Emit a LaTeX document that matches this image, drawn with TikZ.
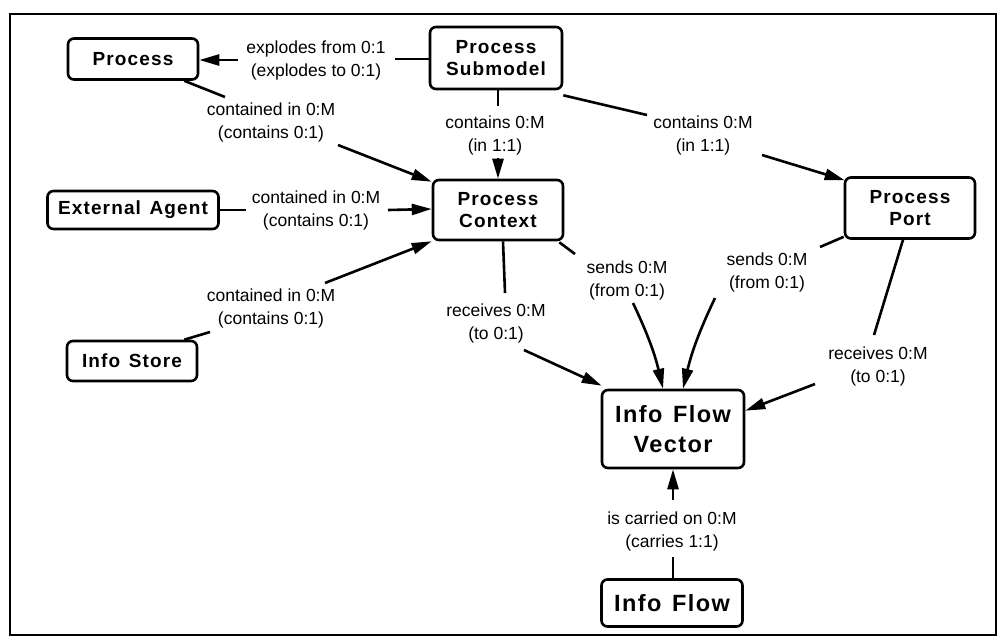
\documentclass[tikz,border=0pt]{standalone}
\usepackage{fontspec}
\setmainfont{Liberation Sans}
\newfontfamily\boxfont[LetterSpace=6]{Liberation Sans Bold}
\usetikzlibrary{arrows.meta}
\tikzset{
  entity/.style={draw, line width=2.6pt, rounded corners=6pt, align=center,
    inner sep=0pt, font=\boxfont\fontsize{19}{22}\selectfont},
  bigentity/.style={entity, font=\boxfont\fontsize{23.5}{30}\selectfont},
  rel/.style={align=center, inner sep=0pt, font=\fontsize{17.5}{23}\selectfont},
  link/.style={line width=2.6pt},
  arr/.style={link, -{Triangle[length=20pt,width=11pt]}},
}
\newcommand{\wsp}{\hspace{0.45em}}
\begin{document}
\begin{tikzpicture}[x=1pt,y=-1pt]
\useasboundingbox (0,0) rectangle (1001,638);
\fill[white] (0,0) rectangle (1001,638);
\draw[line width=2.6pt] (10,14) rectangle (996,635);

% entities
\node[entity, minimum width=130pt, minimum height=41pt] (proc) at (133,59) {Process};
\node[entity, minimum width=132pt, minimum height=62pt] (sub) at (496,58) {Process\\Submodel};
\node[entity, minimum width=171pt, minimum height=38pt] (ea) at (133,210) {External\wsp Agent};
\node[entity, minimum width=130pt, minimum height=60pt] (ctx) at (498,210) {Process\\Context};
\node[entity, minimum width=130pt, minimum height=61pt] (port) at (910,208) {Process\\Port};
\node[entity, minimum width=130pt, minimum height=40pt] (store) at (132,361) {Info\wsp Store};
\node[bigentity, minimum width=142pt, minimum height=78pt] (ifv) at (673,429) {Info\wsp Flow\\Vector};
\node[bigentity, minimum width=141pt, minimum height=47pt] (flow) at (672,603) {Info\wsp Flow};

% relationship labels
\node[rel] (lexp) at (316,60) {explodes from 0:1\\(explodes to 0:1)};
\node[rel] (lpc) at (271,122) {contained in 0:M\\(contains 0:1)};
\node[rel] (lsc) at (495,135) {contains 0:M\\(in 1:1)};
\node[rel] (lsp) at (703,135) {contains 0:M\\(in 1:1)};
\node[rel] (lea) at (316,210) {contained in 0:M\\(contains 0:1)};
\node[rel] (lst) at (271,308) {contained in 0:M\\(contains 0:1)};
\node[rel] (lcr) at (496,323) {receives 0:M\\(to 0:1)};
\node[rel] (lcs) at (627,280) {sends 0:M\\(from 0:1)};
\node[rel] (lps) at (767,272) {sends 0:M\\(from 0:1)};
\node[rel] (lpr) at (878,366) {receives 0:M\\(to 0:1)};
\node[rel] (lfc) at (672,531) {is carried on 0:M\\(carries 1:1)};

% connector end points beside the labels
\coordinate (a1) at (395,59);   \coordinate (b1) at (238,60);
\coordinate (a2) at (225,97);   \coordinate (b2) at (338,145);
\coordinate (a3) at (498,106);  \coordinate (b3) at (498,158);
\coordinate (a4) at (647,115);  \coordinate (b4) at (762,155);
\coordinate (a5) at (246,210);  \coordinate (b5) at (388,210);
\coordinate (a6) at (210,332);  \coordinate (b6) at (325,283);
\coordinate (a7) at (505,293);  \coordinate (b7) at (524,350);
\coordinate (a8) at (575,254);  \coordinate (b8) at (633,303);
\coordinate (a9) at (820,247);  \coordinate (b9) at (715,298);
\coordinate (a10) at (874,335); \coordinate (b10) at (815,384);
\coordinate (a11) at (673,557); \coordinate (b11) at (673,500);

% Process Submodel -- Process
\draw[link] (sub.west |- a1) -- (a1);
\draw[arr] (b1) -- (proc.east |- b1);
% Process Context -- Process
\draw[link] ([xshift=-15pt]proc.south east) -- (a2);
\draw[arr] (b2) -- ([yshift=-3pt]ctx.north west);
% Process Submodel -- Process Context
\draw[link] (sub.south -| a3) -- (a3);
\draw[arr] (b3) -- (ctx.north -| b3);
% Process Submodel -- Process Port
\draw[link] ([yshift=-5pt]sub.south east) -- (a4);
\draw[arr] (b4) -- ([xshift=1pt,yshift=-4pt]port.north west);
% External Agent -- Process Context
\draw[link] (ea.east |- a5) -- (a5);
\draw[arr] (b5) -- ([yshift=1pt]ctx.west);
% Info Store -- Process Context
\draw[link] ([xshift=-14pt]store.north east) -- (a6);
\draw[arr] (b6) -- (ctx.south west);
% Process Context -- Info Flow Vector (receives)
\draw[link] ([xshift=5pt]ctx.south) -- (a7);
\draw[arr] (b7) -- ([xshift=1pt,yshift=3pt]ifv.north west);
% Process Context -- Info Flow Vector (sends)
\draw[link] ([xshift=-5pt,yshift=-1pt]ctx.south east) -- (a8);
\draw[arr] (b8) to[bend left=6] ([xshift=-10pt]ifv.north);
% Process Port -- Info Flow Vector (sends)
\draw[link] ([yshift=3pt]port.south west) -- (a9);
\draw[arr] (b9) to[bend right=6] ([xshift=10pt]ifv.north);
% Process Port -- Info Flow Vector (receives)
\draw[link] ([xshift=-7pt]port.south) -- (a10);
\draw[arr] (b10) -- ([yshift=-22pt]ifv.north east);
% Info Flow -- Info Flow Vector
\draw[link] (flow.north -| a11) -- (a11);
\draw[arr] (b11) -- (ifv.south -| b11);
\end{tikzpicture}
\end{document}
